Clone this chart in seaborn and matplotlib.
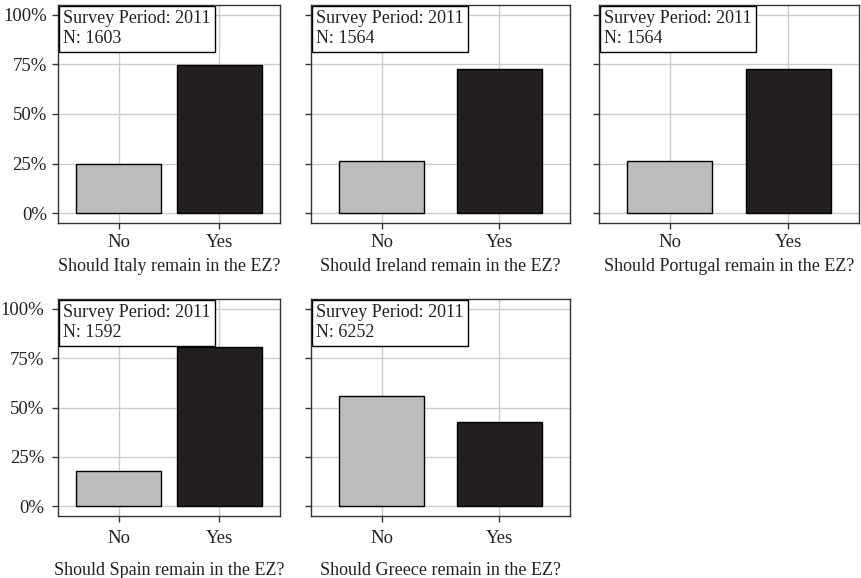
import matplotlib
matplotlib.use("Agg")
import matplotlib.pyplot as plt
import seaborn as sns
import pandas as pd
from matplotlib.ticker import PercentFormatter

countries = ["Italy", "Ireland", "Portugal", "Spain", "Greece"]
answers = ["No", "Yes"]
share_no = [0.247, 0.263, 0.263, 0.180, 0.560]
share_yes = [0.747, 0.727, 0.727, 0.805, 0.429]
n_resp = [1603, 1564, 1564, 1592, 6252]
period = "2011"

sns.set_theme(style="white")
plt.rcParams["font.family"] = ["Liberation Serif", "DejaVu Serif"]

W, H = 861, 578
cols = [(58, 280), (311, 570), (599, 859)]
rows = [(5, 223), (299, 516)]
fs = 13.5
pad = 0.25

fig = plt.figure(figsize=(W / 100, H / 100), dpi=100)

for i, country in enumerate(countries):
    r, c = divmod(i, 3)
    x0, x1 = cols[c]
    y0, y1 = rows[r]
    ax = fig.add_axes([x0 / W, 1 - y1 / H, (x1 - x0) / W, (y1 - y0) / H])
    df = pd.DataFrame({"answer": answers, "share": [share_no[i], share_yes[i]]})
    sns.barplot(data=df, x="answer", y="share", hue="answer",
                palette={"No": "#bbbcbe", "Yes": "#231f20"}, legend=False,
                saturation=1, width=0.84 if c == 0 else 0.72,
                edgecolor="black", linewidth=1.0, ax=ax, zorder=3)
    ax.set_xlim(-0.6, 1.6)
    ax.set_ylim(-0.05, 1.05)
    ax.set_yticks([0, 0.25, 0.5, 0.75, 1.0])
    ax.yaxis.set_major_formatter(PercentFormatter(1.0, decimals=0))
    if c != 0:
        ax.set_yticklabels([])
    ax.grid(True, color="#cccccc", linewidth=1.0, zorder=0)
    ax.set_axisbelow(True)
    for s in ax.spines.values():
        s.set_color("#333333")
        s.set_linewidth(1.0)
    ax.tick_params(axis="both", which="both", direction="out", length=4,
                   width=1, color="#333333", labelsize=fs, labelcolor="#222222",
                   left=True, bottom=True, pad=4 if r == 0 else 6)
    ax.set_ylabel("")
    ax.set_xlabel(f"Should {country} remain in the EZ?", fontsize=13,
                  color="#222222", labelpad=5 if r == 0 else 11)
    off = pad * 13
    ax.annotate(f"Survey Period: {period}\nN: {n_resp[i]}",
                xy=(0, 1), xycoords="axes fraction",
                xytext=(off + 0.5, -off - 0.5), textcoords="offset points",
                ha="left", va="top", fontsize=13, color="#222222",
                linespacing=1.25, zorder=5,
                bbox=dict(boxstyle=f"square,pad={pad}", facecolor="white",
                          edgecolor="black", linewidth=1.0))

fig.savefig("out.png", dpi=100)
